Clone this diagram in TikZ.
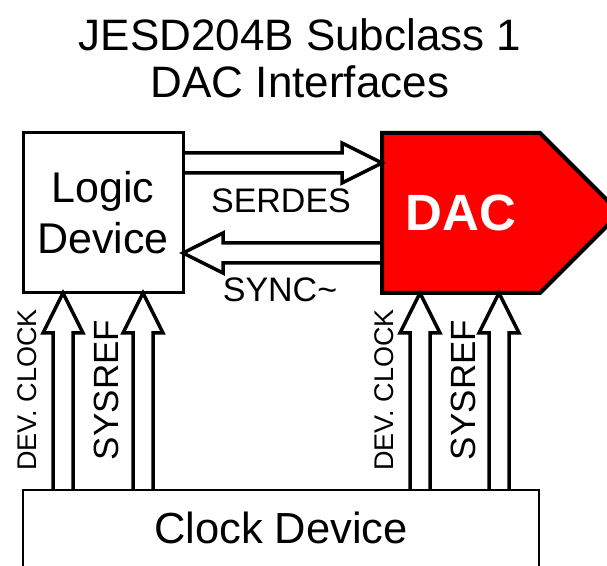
\documentclass[tikz,border=0pt]{standalone}
\usepackage{fontspec}
\setmainfont{Liberation Sans}
\usetikzlibrary{calc}

% seta vazada (barramento) de #1 ate #2
\newcommand{\barramento}[2]{%
  \draw[barra] let \p1=($(#2)-(#1)$), \n1={veclen(\x1,\y1)}, \n2={atan2(\y1,\x1)} in
    [shift={(#1)}, rotate=\n2]
    (0,10) -- (\n1-40,10) -- (\n1-40,20) -- (\n1,0) -- (\n1-40,-20) -- (\n1-40,-10) -- (0,-10);}

\begin{document}
\begin{tikzpicture}[x=1pt, y=1pt,
    barra/.style={black, line width=3.5pt},
    caixa/.style={rectangle, inner sep=0pt, outer sep=0pt},
    rotulo/.style={font=\fontsize{34}{40}\selectfont},
    rotulovert/.style={rotate=90, font=\fontsize{35}{40}\selectfont},
    rotulopeq/.style={rotate=90, font=\fontsize{27}{30}\selectfont}]
      \useasboundingbox (0,0) rectangle (607,565);

      % Titulo
      \node[align=center, font=\fontsize{44}{47}\selectfont] (titulo) at (300,507) {JESD204B Subclass 1\\DAC Interfaces};

      % Blocos
      \node[caixa, draw, line width=3pt, minimum width=160pt, minimum height=160pt,
            align=center, font=\fontsize{43}{51}\selectfont] (logic) at (103,352) {Logic\\Device};

      \draw[black, fill=red, line width=4pt] (382,432) -- (540,432) -- (620,352) -- (540,272) -- (382,272) -- cycle;
      \node[caixa, minimum width=158pt, minimum height=160pt, text=white,
            font=\fontsize{51}{56}\selectfont\bfseries] (dac) at (461,352) {DAC};

      \node[caixa, draw, line width=2.5pt, minimum width=516pt, minimum height=100pt, text depth=25pt,
            anchor=north, font=\fontsize{43.5}{50}\selectfont] (clk) at (281,75) {Clock Device};

      % Pontos das setas
      \coordinate (serdesIni) at ([yshift=50pt]logic.east);
      \coordinate (syncIni)   at ([yshift=-40pt]dac.west);
      \coordinate (lgA) at ([xshift=-40pt]logic.south);
      \coordinate (lgB) at ([xshift=40pt]logic.south);
      \coordinate (dcA) at ([xshift=-41pt]dac.south);
      \coordinate (dcB) at ([xshift=38pt]dac.south);

      % Setas horizontais
      \barramento{serdesIni}{serdesIni -| dac.west}
      \barramento{syncIni}{syncIni -| logic.east}

      % Setas do clock
      \barramento{lgA |- clk.north}{lgA}
      \barramento{lgB |- clk.north}{lgB}
      \barramento{dcA |- clk.north}{dcA}
      \barramento{dcB |- clk.north}{dcB}

      % Rotulos
      \node[rotulo, anchor=base] (serdes) at (281,352) {SERDES};
      \node[rotulo, anchor=base] (sync)   at (280,263) {SYNC\textasciitilde};

      \node[rotulopeq]  (devclkA) at (27,175)  {DEV. CLOCK};
      \node[rotulovert] (sysrefA) at (106,175) {SYSREF};
      \node[rotulopeq]  (devclkB) at (384,175) {DEV. CLOCK};
      \node[rotulovert] (sysrefB) at (463,175) {SYSREF};

    \end{tikzpicture}
\end{document}
